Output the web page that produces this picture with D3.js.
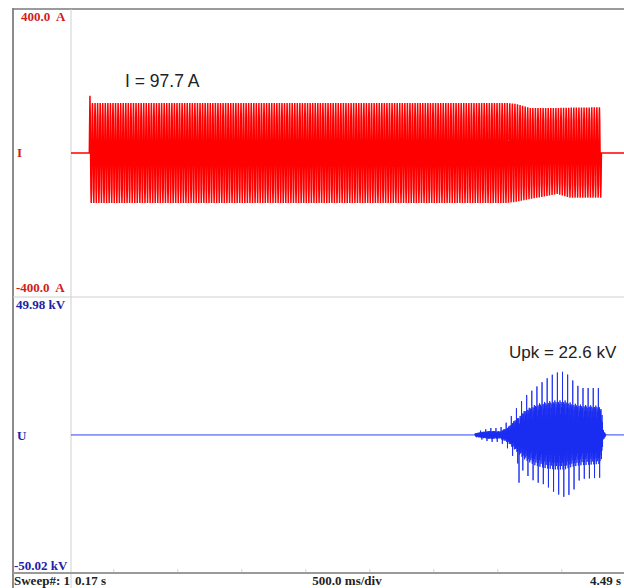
<!DOCTYPE html>
<html>
<head>
<meta charset="utf-8">
<script src="https://cdn.jsdelivr.net/npm/d3@7"></script>
<style>
  html, body { margin: 0; padding: 0; background: #fff; }
  svg { display: block; }
  text { white-space: pre; }
</style>
</head>
<body>
<svg id="chart" width="624" height="588"></svg>
<script>
// ---------------- data ----------------
const timeStart = 0.17, timeEnd = 4.49;           // s
const timeTicks = [0.5, 1.0, 1.5, 2.0, 2.5, 3.0, 3.5, 4.0];
const currentRange = [-400, 400];                  // A
const voltageRange = [-50.02, 49.98];              // kV
const mainsFreq = 50;                              // Hz
const currentCycleShape = [0, 0.71, 1, 0.71, 0, -0.71, -1, -0.71];
const voltageCycleShape = [0, 0.9, -0.5, 1, -0.8, 0.6, -1, 0.4, 0.2, -0.7, 0.95, -0.3, 0.8, -0.9, 0.5, -0.6];

// current envelope (peak A)
const currentEnvT     = [0.318, 0.334, 3.56, 3.639, 3.756, 3.967, 4.068, 4.311];
const currentEnvUpper = [159,   139,   139,  137,   125,   125,   126,   127];
const currentEnvLower = [139,   139,   139,  136,   128,   114,   124,   124];

// voltage envelope (kV)
const voltEnvT     = [3.326, 3.365, 3.443, 3.521, 3.584, 3.639, 3.717, 3.795, 3.873, 3.951, 4.029, 4.084, 4.146, 4.303, 4.318, 4.326, 4.35];
const voltCore     = [0.5,   1.0,   1.5,   1.3,   2.8,   5.5,   9.0,   11.0,  12.0,  12.5,  12.5,  11.5,  11.0,  10.5,  8.0,   2.0,   0];
const voltSpikeUp  = [0.5,   1.5,   2.5,   2.5,   5.0,   9.0,   14.0,  17.0,  20.0,  22.5,  23.0,  20.0,  17.0,  17.0,  15.0,  2.0,   0];
const voltSpikeDn  = [0.5,   1.5,   2.5,   2.5,   5.0,   9.0,   14.0,  17.0,  18.0,  21.0,  22.6,  21.0,  16.0,  15.5,  14.0,  2.0,   0];
const isolatedSpikeT = [3.67];
const isolatedSpikeV = [-17.3];

const labels = {
  iTop: "400.0  A", iBottom: "-400.0  A", iName: "I",
  uTop: "49.98 kV", uBottom: "-50.02 kV", uName: "U",
  iNote: "I = 97.7 A", uNote: "Upk = 22.6 kV",
  sweep: "Sweep#: 1", tStart: "0.17 s", tDiv: "500.0 ms/div", tEnd: "4.49 s"
};

// ---------------- layout ----------------
const svg = d3.select("#chart");
const W = 624, H = 588;
const frameL = 13, frameT = 9, plotL = 71, sepY = 297, footY = 573;

const x = d3.scaleLinear().domain([timeStart, timeEnd]).range([plotL, W]);
const yI = d3.scaleLinear().domain(currentRange).range([sepY, frameT]);
const yU = d3.scaleLinear().domain(voltageRange).range([footY, sepY]);

// frame
svg.append("line").attr("x1", frameL).attr("x2", frameL).attr("y1", frameT - 1).attr("y2", H)
  .attr("stroke", "#8c8c8c").attr("stroke-width", 2);
svg.append("line").attr("x1", frameL).attr("x2", W).attr("y1", frameT).attr("y2", frameT)
  .attr("stroke", "#7a7a7a").attr("stroke-width", 1.5);
svg.append("line").attr("x1", plotL).attr("x2", plotL).attr("y1", frameT).attr("y2", H)
  .attr("stroke", "#cfcfcf").attr("stroke-width", 1);
svg.append("line").attr("x1", frameL).attr("x2", W).attr("y1", sepY).attr("y2", sepY)
  .attr("stroke", "#cfcfcf").attr("stroke-width", 1);
svg.append("line").attr("x1", frameL).attr("x2", W).attr("y1", footY).attr("y2", footY)
  .attr("stroke", "#9a9a9a").attr("stroke-width", 2);

// faint time ticks on footer line
const ax = svg.append("g").attr("transform", `translate(0,${footY - 1})`)
  .call(d3.axisTop(x).tickValues(timeTicks).tickSize(3).tickFormat(""));
ax.select(".domain").remove();
ax.selectAll("line").attr("stroke", "#d4d4d4");

// ---------------- waveforms ----------------
// current
const iStep = 1 / mainsFreq / currentCycleShape.length;
const envUp = d3.scaleLinear().domain(currentEnvT).range(currentEnvUpper).clamp(true);
const envLo = d3.scaleLinear().domain(currentEnvT).range(currentEnvLower).clamp(true);
const iStart = currentEnvT[0], iEnd = currentEnvT[currentEnvT.length - 1];
const currentPts = [[timeStart, 0], [iStart - iStep * 2, 0]];
{
  const n = Math.round((iEnd - iStart) / iStep);
  for (let k = 0; k <= n; k++) {
    const t = iStart + k * iStep;
    const s = currentCycleShape[(k + 2) % currentCycleShape.length];
    currentPts.push([t, s >= 0 ? s * envUp(t) : s * envLo(t)]);
  }
}
currentPts.push([iEnd + iStep, 0], [timeEnd, 0]);

svg.append("path").datum(currentPts)
  .attr("fill", "none").attr("stroke", "#ff0000").attr("stroke-width", 1.5)
  .attr("d", d3.line().x(d => x(d[0])).y(d => yI(d[1])));

// voltage
const uStep = 1 / mainsFreq / voltageCycleShape.length;
const vCore = d3.scaleLinear().domain(voltEnvT).range(voltCore).clamp(true);
const vUp = d3.scaleLinear().domain(voltEnvT).range(voltSpikeUp).clamp(true);
const vDn = d3.scaleLinear().domain(voltEnvT).range(voltSpikeDn).clamp(true);
const uStart = voltEnvT[0], uEnd = voltEnvT[voltEnvT.length - 1];
const voltPts = [[timeStart, 0]];
{
  const L = voltageCycleShape.length;
  const n = Math.round((uEnd - uStart) / uStep);
  for (let k = 0; k <= n; k++) {
    const t = uStart + k * uStep;
    const idx = k % L;
    const cyc = Math.floor(k / L);
    let v = voltageCycleShape[idx] * vCore(t);
    if (cyc % 2 === 0 && idx === 3) v = vUp(t);
    if (cyc % 2 === 0 && idx === 11) v = -vDn(t);
    isolatedSpikeT.forEach((ts, j) => { if (Math.abs(t - ts) < uStep / 2) v = isolatedSpikeV[j]; });
    voltPts.push([t, v]);
  }
}
voltPts.push([timeEnd, 0]);

svg.append("path").datum(voltPts)
  .attr("fill", "none").attr("stroke", "#1a2cf0").attr("stroke-width", 0.9)
  .attr("d", d3.line().x(d => x(d[0])).y(d => yU(d[1])));

// ---------------- text ----------------
const serif = "'Liberation Serif', 'Times New Roman', serif";
const sans = "'Liberation Sans', Arial, sans-serif";
const red = "#d01c1c", blue = "#2020a8";

function txt(s, px, py, opts) {
  return svg.append("text").attr("x", px).attr("y", py).text(s)
    .attr("font-family", opts.font || serif)
    .attr("font-size", opts.size || 13)
    .attr("font-weight", opts.weight || "bold")
    .attr("fill", opts.fill || "#111")
    .attr("text-anchor", opts.anchor || "start");
}
txt(labels.iTop, 21, 21, { fill: red });
txt(labels.iBottom, 16, 292, { fill: red });
txt(labels.iName, 17, 157, { fill: red });
txt(labels.uTop, 16, 309, { fill: blue });
txt(labels.uBottom, 14, 570, { fill: blue });
txt(labels.uName, 17, 440, { fill: blue });

txt(labels.iNote, 125, 87, { font: sans, size: 17.5, weight: "normal", fill: "#222" });
txt(labels.uNote, 509, 358, { font: sans, size: 17, weight: "normal", fill: "#222" });

txt(labels.sweep, 14, 585, { fill: "#222" });
txt(labels.tStart, 75, 585, { fill: "#222" });
txt(labels.tDiv, 347, 585, { fill: "#222", anchor: "middle" });
txt(labels.tEnd, 621, 585, { fill: "#222", anchor: "end" });
</script>
</body>
</html>
